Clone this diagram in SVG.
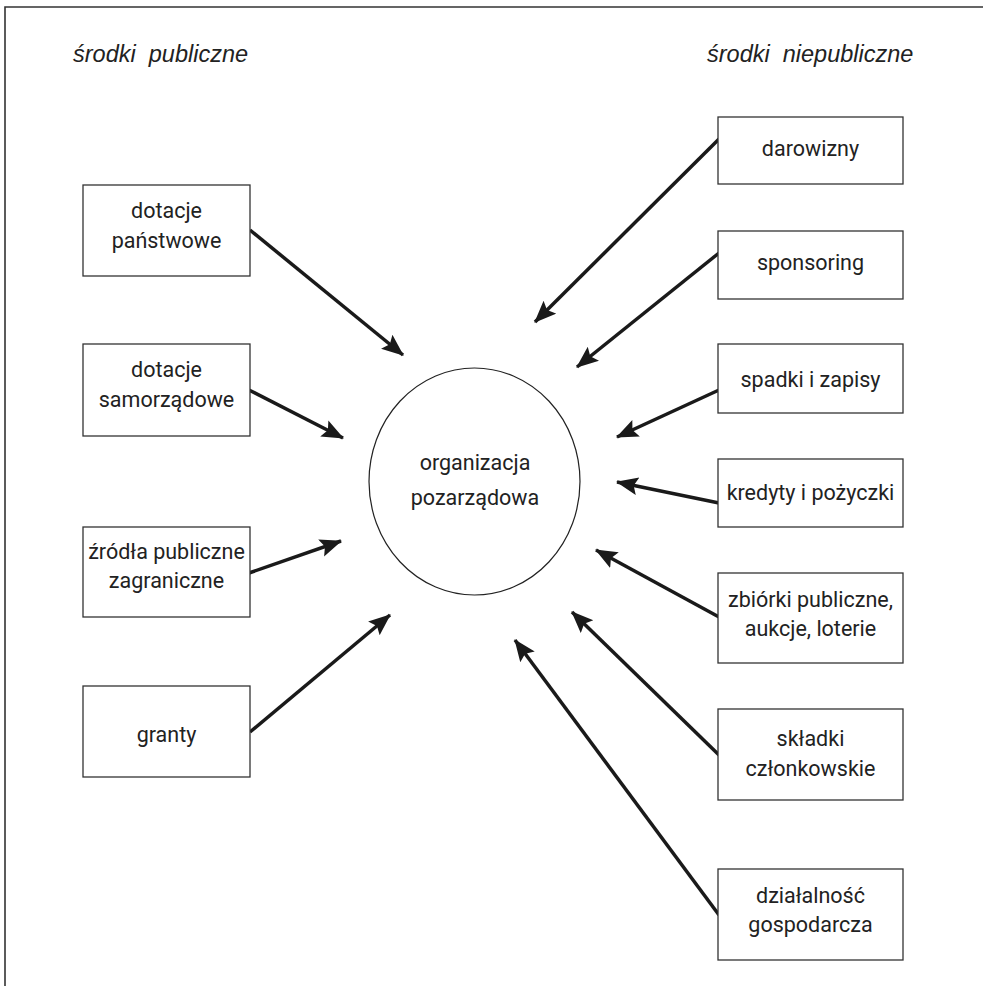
<svg xmlns="http://www.w3.org/2000/svg" width="983" height="986" viewBox="0 0 983 986">
<style>
.box{fill:#fff;stroke:#333;stroke-width:1.3}
.t{font-family:Roboto,"Liberation Sans",sans-serif;font-size:21.5px;fill:#222;text-anchor:middle}
.h{font-family:"Liberation Sans",Arial,sans-serif;font-size:23.5px;font-style:italic;fill:#222}
.c{stroke:#1a1a1a;stroke-width:3.5;fill:none;marker-end:url(#ah)}
</style>
<defs>
<marker id="ah" markerUnits="userSpaceOnUse" markerWidth="24" markerHeight="20" refX="21" refY="9" orient="auto" viewBox="0 0 24 20">
<path d="M0,0 L22,9 L0,18 L4,9 Z" fill="#1a1a1a"/>
</marker>
</defs>
<rect width="983" height="986" fill="#fff"/>
<path d="M5,990 L5,7 L990,7" fill="none" stroke="#333" stroke-width="1.6"/>
<text class="h" x="73" y="62" xml:space="preserve">środki  publiczne</text>
<text class="h" x="707" y="62" xml:space="preserve">środki  niepubliczne</text>
<g id="connectors">
<line class="c" x1="250" y1="230" x2="403" y2="355"/>
<line class="c" x1="249" y1="390" x2="343" y2="438"/>
<line class="c" x1="249" y1="573" x2="341" y2="541"/>
<line class="c" x1="250" y1="732" x2="390" y2="615"/>
<line class="c" x1="719" y1="139" x2="535" y2="322"/>
<line class="c" x1="719" y1="253" x2="577" y2="367"/>
<line class="c" x1="719" y1="390" x2="617" y2="437"/>
<line class="c" x1="719" y1="503" x2="617" y2="482"/>
<line class="c" x1="719" y1="617" x2="596" y2="550"/>
<line class="c" x1="719" y1="755" x2="572" y2="612"/>
<line class="c" x1="719" y1="915" x2="515" y2="640"/>
</g>
<g id="center">
<ellipse cx="474.5" cy="481.5" rx="105.5" ry="113.5" fill="none" stroke="#222" stroke-width="1.2"/>
<text class="t" x="475" y="470">organizacja</text>
<text class="t" x="475" y="505">pozarządowa</text>
</g>
<g id="dotacje-panstwowe">
<rect class="box" x="83" y="185" width="167" height="91"/>
<text class="t" x="166.5" y="218">dotacje</text>
<text class="t" x="166.5" y="248">państwowe</text>
</g>
<g id="dotacje-samorzadowe">
<rect class="box" x="83" y="344" width="167" height="92"/>
<text class="t" x="166.5" y="377">dotacje</text>
<text class="t" x="166.5" y="407">samorządowe</text>
</g>
<g id="zrodla-publiczne">
<rect class="box" x="83" y="527" width="167" height="90"/>
<text class="t" x="166.5" y="559">źródła publiczne</text>
<text class="t" x="166.5" y="588">zagraniczne</text>
</g>
<g id="granty">
<rect class="box" x="83" y="686" width="167" height="91"/>
<text class="t" x="166.5" y="742">granty</text>
</g>
<g id="darowizny">
<rect class="box" x="718" y="117" width="185" height="67"/>
<text class="t" x="810.5" y="156">darowizny</text>
</g>
<g id="sponsoring">
<rect class="box" x="718" y="231" width="185" height="68"/>
<text class="t" x="810.5" y="270">sponsoring</text>
</g>
<g id="spadki">
<rect class="box" x="718" y="344" width="185" height="69"/>
<text class="t" x="810.5" y="387">spadki i zapisy</text>
</g>
<g id="kredyty">
<rect class="box" x="718" y="459" width="185" height="68"/>
<text class="t" x="810.5" y="500">kredyty i pożyczki</text>
</g>
<g id="zbiorki">
<rect class="box" x="718" y="573" width="185" height="90"/>
<text class="t" x="810.5" y="607">zbiórki publiczne,</text>
<text class="t" x="810.5" y="636">aukcje, loterie</text>
</g>
<g id="skladki">
<rect class="box" x="718" y="709" width="185" height="91"/>
<text class="t" x="810.5" y="746">składki</text>
<text class="t" x="810.5" y="776">członkowskie</text>
</g>
<g id="dzialalnosc">
<rect class="box" x="718" y="869" width="185" height="91"/>
<text class="t" x="810.5" y="903">działalność</text>
<text class="t" x="810.5" y="932">gospodarcza</text>
</g>
</svg>
